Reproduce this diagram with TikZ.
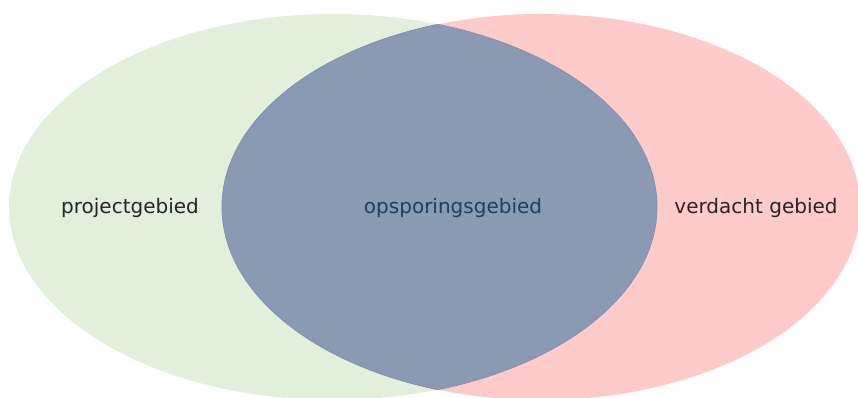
\documentclass[tikz,border=0pt]{standalone}
\usepackage{fontspec}
\setmainfont{DejaVu Sans}
\usetikzlibrary{positioning}
\definecolor{projgreen}{HTML}{E2EFDA}
\definecolor{verdred}{HTML}{FFCACA}
\definecolor{opsblue}{HTML}{8A9AB2}
\definecolor{opsline}{HTML}{7F93B5}
\definecolor{opstext}{HTML}{213F63}
\tikzstyle{area}=[font=\fontsize{20}{24}\selectfont, inner sep=0pt, text=black!85]

\begin{document}
\begin{tikzpicture}[x=1pt, y=-1pt]

  \def\cy{207};
  \def\ry{193};

  \useasboundingbox (0,0) rectangle (858,398);

  % the two areas
  \foreach \cx/\rx/\col in {333/324/projgreen, 541/319/verdred}
     \fill[\col] (\cx, \cy) ellipse ({\rx} and {\ry});

  % overlap
  \begin{scope}
    \clip (333, \cy) ellipse (324 and \ry);
    \fill[opsblue] (541, \cy) ellipse (319 and \ry);
    \draw[opsline, line width=0.8pt] (541, \cy) ellipse (319 and \ry);
  \end{scope}
  \begin{scope}
    \clip (541, \cy) ellipse (319 and \ry);
    \draw[opsline, line width=0.8pt] (333, \cy) ellipse (324 and \ry);
  \end{scope}

  \node[area] (proj) at (130, 208) {projectgebied};
  \node[area, text=opstext] (ops) at (453, 208) {opsporingsgebied};
  \node[area] (verd) at (756, 208) {verdacht gebied};

\end{tikzpicture}
\end{document}
